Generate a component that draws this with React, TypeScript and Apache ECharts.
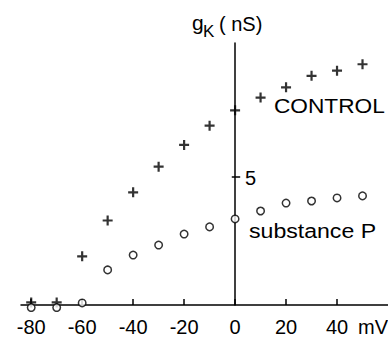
import React, { useEffect, useRef } from "react";
import * as echarts from "echarts";

const voltages = [-80, -70, -60, -50, -40, -30, -20, -10, 0, 10, 20, 30, 40, 50];
const controlG = [0.1, 0.1, 1.9, 3.3, 4.4, 5.4, 6.25, 7.0, 7.6, 8.1, 8.5, 8.95, 9.15, 9.4];
const substancePG = [-0.1, -0.1, 0.08, 1.37, 1.95, 2.34, 2.77, 3.05, 3.36, 3.67, 3.98, 4.06, 4.18, 4.26];
const xTickValues = [-80, -60, -40, -20, 0, 20, 40];
const yTickLabel = "5";
const yTickValue = 5;

const FONT = "'Liberation Sans', Arial, Helvetica, sans-serif";
const PLUS = "path://M3.9,0H6.1V3.9H10V6.1H6.1V10H3.9V6.1H0V3.9H3.9Z";

export default function App() {
  const ref = useRef<HTMLDivElement>(null);
  useEffect(() => {
    if (!ref.current) return;
    const chart = echarts.init(ref.current, null, { renderer: "svg" });
    chart.setOption({
      animation: false,
      backgroundColor: "#fff",
      grid: { left: 21, right: 0, top: 43, bottom: 32 },
      xAxis: {
        type: "value",
        min: -84,
        max: 60,
        splitLine: { show: false },
        axisLine: { onZero: true, lineStyle: { color: "#000", width: 1.5 } },
        axisTick: {
          inside: true,
          length: 6,
          customValues: xTickValues,
          lineStyle: { color: "#000", width: 1.5 },
        },
        axisLabel: {
          customValues: xTickValues,
          margin: 12,
          color: "#000",
          fontSize: 20,
          fontFamily: FONT,
        },
      },
      yAxis: {
        type: "value",
        min: 0,
        max: 10.23,
        splitLine: { show: false },
        axisLine: { onZero: true, lineStyle: { color: "#000", width: 1.5 } },
        axisTick: { show: false },
        axisLabel: { show: false },
      },
      series: [
        {
          name: "CONTROL",
          type: "scatter",
          clip: false,
          symbol: PLUS,
          symbolSize: 10,
          itemStyle: { color: "#000" },
          data: voltages.map((v, i) => [v, controlG[i]]),
          markLine: {
            silent: true,
            symbol: "none",
            label: { show: false },
            lineStyle: { color: "#000", width: 1.5, type: "solid" },
            data: [[{ coord: [-1.3, yTickValue] }, { coord: [2, yTickValue] }]],
          },
        },
        {
          name: "substance P",
          type: "scatter",
          clip: false,
          symbol: "circle",
          symbolSize: 7.5,
          itemStyle: { color: "#fff", borderColor: "#000", borderWidth: 1.5 },
          data: voltages.map((v, i) => [v, substancePG[i]]),
        },
      ],
      graphic: [
        {
          type: "text",
          x: 245,
          y: 177.5,
          style: { text: yTickLabel, fill: "#000", font: `20px ${FONT}`, textAlign: "left", textVerticalAlign: "middle" },
        },
        {
          type: "text",
          x: 274,
          y: 105.5,
          scaleX: 1.08,
          style: { text: "CONTROL", fill: "#000", font: `21px ${FONT}`, textAlign: "left", textVerticalAlign: "middle" },
        },
        {
          type: "text",
          x: 249,
          y: 231,
          scaleX: 1.1,
          style: { text: "substance P", fill: "#000", font: `21px ${FONT}`, textAlign: "left", textVerticalAlign: "middle" },
        },
        {
          type: "text",
          x: 358,
          y: 327,
          style: { text: "mV", fill: "#000", font: `20px ${FONT}`, textAlign: "left", textVerticalAlign: "middle" },
        },
        {
          type: "text",
          x: 192,
          y: 22,
          style: { text: "g", fill: "#000", font: `21px ${FONT}`, textAlign: "left", textVerticalAlign: "middle" },
        },
        {
          type: "text",
          x: 203,
          y: 31,
          style: { text: "K", fill: "#000", font: `17px ${FONT}`, textAlign: "left", textVerticalAlign: "middle" },
        },
        {
          type: "text",
          x: 219,
          y: 24,
          style: { text: "( nS)", fill: "#000", font: `20px ${FONT}`, textAlign: "left", textVerticalAlign: "middle" },
        },
      ],
    });
    return () => chart.dispose();
  }, []);
  return (
    <div
      ref={ref}
      style={{ position: "fixed", left: 0, top: 0, width: 388, height: 337, background: "#fff" }}
    />
  );
}
